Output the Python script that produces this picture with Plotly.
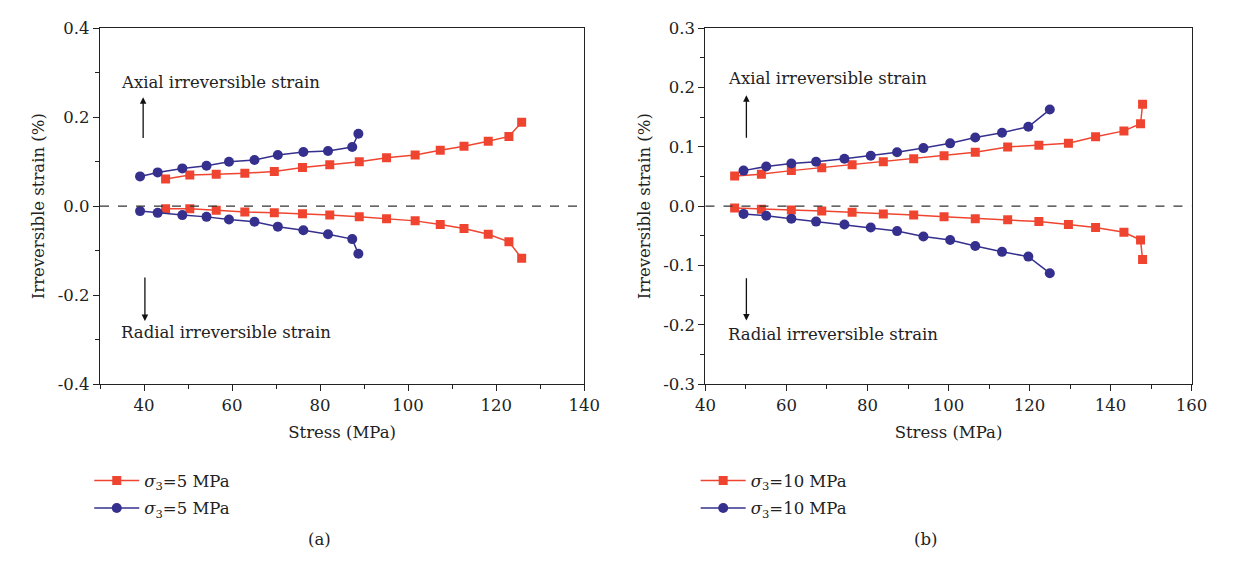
import plotly.graph_objects as go

# ---------------- data: panel (a), sigma3 = 5 MPa ----------------
a_red_ax_x = [44.9, 50.4, 56.4, 62.9, 69.6, 76.0, 82.2, 88.9, 95.1, 101.6, 107.3, 112.7, 118.2, 122.9, 125.8]
a_red_ax_y = [0.061, 0.070, 0.072, 0.074, 0.078, 0.087, 0.093, 0.100, 0.109, 0.115, 0.126, 0.135, 0.146, 0.157, 0.189]
a_red_rad_x = a_red_ax_x
a_red_rad_y = [-0.006, -0.006, -0.009, -0.013, -0.015, -0.017, -0.020, -0.024, -0.028, -0.033, -0.041, -0.050, -0.063, -0.080, -0.117]

a_blue_ax_x = [39.1, 43.1, 48.7, 54.2, 59.3, 65.1, 70.4, 76.2, 81.8, 87.3, 88.7]
a_blue_ax_y = [0.067, 0.076, 0.085, 0.091, 0.100, 0.104, 0.115, 0.122, 0.124, 0.133, 0.163]
a_blue_rad_x = a_blue_ax_x
a_blue_rad_y = [-0.011, -0.015, -0.020, -0.024, -0.030, -0.035, -0.046, -0.054, -0.063, -0.074, -0.107]

# ---------------- data: panel (b), sigma3 = 10 MPa ----------------
b_red_ax_x = [47.2, 53.8, 61.2, 68.7, 76.2, 83.9, 91.4, 98.9, 106.6, 114.6, 122.3, 129.6, 136.3, 143.3, 147.4, 147.9]
b_red_ax_y = [0.051, 0.054, 0.060, 0.065, 0.070, 0.075, 0.080, 0.085, 0.091, 0.100, 0.103, 0.106, 0.117, 0.127, 0.139, 0.172]
b_red_rad_x = b_red_ax_x
b_red_rad_y = [-0.003, -0.005, -0.0065, -0.008, -0.010, -0.013, -0.015, -0.018, -0.021, -0.023, -0.026, -0.031, -0.036, -0.044, -0.057, -0.090]

b_blue_ax_x = [49.4, 55.0, 61.2, 67.3, 74.3, 80.8, 87.3, 93.8, 100.4, 106.6, 113.2, 119.7, 125.0]
b_blue_ax_y = [0.060, 0.067, 0.072, 0.075, 0.080, 0.085, 0.091, 0.098, 0.106, 0.116, 0.124, 0.134, 0.163]
b_blue_rad_x = b_blue_ax_x
b_blue_rad_y = [-0.013, -0.016, -0.021, -0.026, -0.031, -0.036, -0.042, -0.051, -0.057, -0.067, -0.077, -0.085, -0.113]

# ---------------- tick labels ----------------
a_yticks = [-0.4, -0.2, 0.0, 0.2, 0.4]
a_yticktext = ["-0.4", "-0.2", "0.0", "0.2", "0.4"]
b_yticks = [-0.3, -0.2, -0.1, 0.0, 0.1, 0.2, 0.3]
b_yticktext = ["-0.3", "-0.2", "-0.1", "0.0", "0.1", "0.2", "0.3"]

label_a = "<i>σ</i><sub>3</sub>=5 MPa"
label_b = "<i>σ</i><sub>3</sub>=10 MPa"

RED = "#EF4530"
BLUE = "#35308E"
FONT = "DejaVu Serif"
FS = 16.5
TXT = "#222"

FW, FH = 1234, 570

def px(x):
    return x / FW

def py(y):
    return 1 - y / FH

fig = go.Figure()

def add_series(x, y, color, symbol, size, name, xa, ya, legend, show, group):
    fig.add_trace(go.Scatter(
        x=x, y=y, mode="lines+markers", name=name,
        line=dict(color=color, width=1.5),
        marker=dict(color=color, symbol=symbol, size=size),
        xaxis=xa, yaxis=ya, legend=legend, showlegend=show, legendgroup=group,
    ))

add_series(a_red_ax_x, a_red_ax_y, RED, "square", 9, label_a, "x", "y", "legend", True, "ar")
add_series(a_blue_ax_x, a_blue_ax_y, BLUE, "circle", 10, label_a, "x", "y", "legend", True, "ab")
add_series(a_red_rad_x, a_red_rad_y, RED, "square", 9, label_a, "x", "y", "legend", False, "ar")
add_series(a_blue_rad_x, a_blue_rad_y, BLUE, "circle", 10, label_a, "x", "y", "legend", False, "ab")

add_series(b_red_ax_x, b_red_ax_y, RED, "square", 9, label_b, "x2", "y2", "legend2", True, "br")
add_series(b_blue_ax_x, b_blue_ax_y, BLUE, "circle", 10, label_b, "x2", "y2", "legend2", True, "bb")
add_series(b_red_rad_x, b_red_rad_y, RED, "square", 9, label_b, "x2", "y2", "legend2", False, "br")
add_series(b_blue_rad_x, b_blue_rad_y, BLUE, "circle", 10, label_b, "x2", "y2", "legend2", False, "bb")

ax_common = dict(
    showline=True, linecolor="#222", linewidth=1.2, mirror=True,
    ticks="outside", ticklen=6, tickwidth=1.1, tickcolor="#222",
    showgrid=False, zeroline=False,
    tickfont=dict(family=FONT, size=FS, color=TXT),
)
title_font = dict(family=FONT, size=FS, color=TXT)
leg_common = dict(xanchor="left", yanchor="top", font=dict(family=FONT, size=FS, color=TXT),
                  itemwidth=45, tracegroupgap=3, bgcolor="rgba(0,0,0,0)")

fig.update_layout(
    width=FW, height=FH,
    margin=dict(l=0, r=0, t=0, b=0),
    paper_bgcolor="white", plot_bgcolor="white",
    font=dict(family=FONT, size=FS, color=TXT),
    xaxis=dict(domain=[px(91), px(586)], range=[30, 140], dtick=20, tick0=0,
               minor=dict(dtick=10, ticks="outside", ticklen=4, tickcolor="#222"),
               title=dict(text="Stress (MPa)", font=title_font, standoff=12),
               anchor="y", **ax_common),
    yaxis=dict(domain=[py(388), py(20)], range=[-0.4, 0.4],
               tickvals=a_yticks, ticktext=a_yticktext,
               minor=dict(dtick=0.1, tick0=0, ticks="outside", ticklen=4, tickcolor="#222"),
               title=dict(text="Irreversible strain (%)", font=title_font, standoff=8),
               anchor="x", **ax_common),
    xaxis2=dict(domain=[px(710), px(1207)], range=[40, 160], dtick=20, tick0=0,
                minor=dict(dtick=10, ticks="outside", ticklen=4, tickcolor="#222"),
                title=dict(text="Stress (MPa)", font=title_font, standoff=12),
                anchor="y2", **ax_common),
    yaxis2=dict(domain=[py(388), py(20)], range=[-0.3, 0.3],
                tickvals=b_yticks, ticktext=b_yticktext,
                minor=dict(dtick=0.05, tick0=0, ticks="outside", ticklen=4, tickcolor="#222"),
                title=dict(text="Irreversible strain (%)", font=title_font, standoff=8),
                anchor="x2", **ax_common),
    legend=dict(x=px(80), y=py(470), **leg_common),
    legend2=dict(x=px(700), y=py(470), **leg_common),
)

# dashed zero lines
for xr, yr in (("x domain", "y"), ("x2 domain", "y2")):
    fig.add_shape(type="line", xref=xr, yref=yr, x0=0, x1=1, y0=0, y1=0,
                  line=dict(color="#333", width=1.2, dash="dash"))

# arrows and text annotations
def arrow(xref, yref, x, y_tail, y_head):
    fig.add_annotation(x=x, y=y_head, ax=x, ay=y_tail, xref=xref, yref=yref,
                       axref=xref, ayref=yref, text="", showarrow=True,
                       arrowhead=2, arrowsize=1, arrowwidth=1.3, arrowcolor="#111")

def label(xref, yref, x, y, text):
    fig.add_annotation(x=x, y=y, xref=xref, yref=yref, text=text, showarrow=False,
                       xanchor="left", yanchor="middle",
                       font=dict(family=FONT, size=FS, color=TXT))

arrow("x", "y", 39.8, 0.15, 0.245)
arrow("x", "y", 40.2, -0.157, -0.258)
label("x", "y", 34.4, 0.278, "Axial irreversible strain")
label("x", "y", 34.4, -0.283, "Radial irreversible strain")

arrow("x2", "y2", 50.1, 0.113, 0.187)
arrow("x2", "y2", 50.1, -0.119, -0.193)
label("x2", "y2", 45.0, 0.215, "Axial irreversible strain")
label("x2", "y2", 45.0, -0.217, "Radial irreversible strain")

# panel labels
for x0, t in ((315, "(a)"), (935, "(b)")):
    fig.add_annotation(x=px(x0), y=py(549), xref="paper", yref="paper", text=t,
                       showarrow=False, xanchor="center", yanchor="middle",
                       font=dict(family=FONT, size=FS, color=TXT))

fig.write_html("out.html")
